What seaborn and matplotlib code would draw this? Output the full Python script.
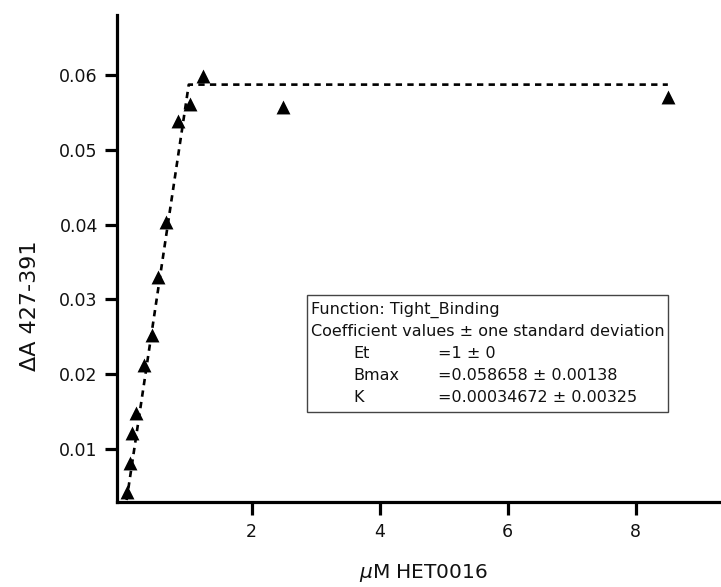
import matplotlib
matplotlib.use("Agg")
import matplotlib.pyplot as plt
from matplotlib.patches import Rectangle
import seaborn as sns

# ---- data ----
conc = [0.05, 0.11, 0.14, 0.20, 0.32, 0.44, 0.545, 0.66, 0.85, 1.045, 1.25, 2.49, 8.51]
dA = [0.0043, 0.0081, 0.0122, 0.0148, 0.0212, 0.0252, 0.0330, 0.0403, 0.0538, 0.0561, 0.0598, 0.0557, 0.0571]
fit_conc = [0.05, 1.02, 8.5]
fit_dA = [0.0032, 0.0587, 0.0587]
x_ticks = [2, 4, 6, 8]
y_ticks = [0.01, 0.02, 0.03, 0.04, 0.05, 0.06]
fit_title = "Function: Tight_Binding"
coef_header = "Coefficient values \u00b1 one standard deviation"
coef_names = ["Et", "Bmax", "K"]
coef_values = ["=1 \u00b1 0", "=0.058658 \u00b1 0.00138", "=0.00034672 \u00b1 0.00325"]

sns.set_theme(style="ticks")
plt.rcParams["font.family"] = ["DejaVu Sans"]
plt.rcParams["mathtext.fontset"] = "dejavusans"

W, H = 721, 587
fig = plt.figure(figsize=(W / 100, H / 100), dpi=100)
fig.patch.set_facecolor("white")


def fx(px):
    return px / W


def fy(py):
    return 1 - py / H


L, B, T = 116.7, 501.7, 15.0
ax = fig.add_axes([fx(L), fy(B), 1 - fx(L), fy(T) - fy(B)])
ax.set_facecolor("white")

sns.lineplot(x=fit_conc, y=fit_dA, ax=ax, color="black", linewidth=1.9,
             sort=False, estimator=None, zorder=2)
ax.lines[0].set_linestyle((0, (2.4, 2.0)))

sns.scatterplot(x=conc, y=dA, ax=ax, marker="^", s=100, color="black",
                linewidth=0, zorder=3)

ax.set_xlim(-0.105, 9.33)
ax.set_ylim(0.00298, 0.068)
ax.set_xticks(x_ticks)
ax.set_xticklabels([str(t) for t in x_ticks])
ax.set_yticks(y_ticks)
ax.set_yticklabels([f"{t:.2f}" for t in y_ticks])

for s in ["top", "right"]:
    ax.spines[s].set_visible(False)
for s in ["left", "bottom"]:
    ax.spines[s].set_linewidth(2.3)
    ax.spines[s].set_color("black")

ax.tick_params(axis="both", direction="out", length=9, width=2.3,
               color="black", labelcolor="#111111", labelsize=12.5,
               bottom=True, left=True)
ax.tick_params(axis="x", pad=6.5)
ax.tick_params(axis="y", pad=4.6)

ax.set_xlabel(r"$\mu$M HET0016", fontsize=14.5, color="#111111", va="baseline")
ax.xaxis.set_label_coords((423 - L) / (W - L), (B - 578) / (B - T))
ax.set_ylabel("\u0394A 427-391", fontsize=16, color="#111111", va="baseline")
ax.yaxis.set_label_coords((35.6 - L) / (W - L), (B - 305.6) / (B - T))

fs = 11.5
fig.text(fx(311), fy(310), fit_title, fontsize=fs, va="center", ha="left", color="#111111")
hdr = fig.text(fx(311), fy(332), coef_header, fontsize=fs, va="center", ha="left", color="#111111")
for i, (n, v) in enumerate(zip(coef_names, coef_values)):
    yy = 354 + 22 * i
    fig.text(fx(353), fy(yy), n, fontsize=fs, va="center", ha="left", color="#111111")
    fig.text(fx(438), fy(yy), v, fontsize=fs, va="center", ha="left", color="#111111")

fig.canvas.draw()
ext = hdr.get_window_extent()
right_px = ext.x1 + 3
rect = Rectangle((fx(307), fy(412)), fx(right_px) - fx(307), fy(295) - fy(412),
                 transform=fig.transFigure, fill=False, edgecolor="#444444",
                 linewidth=1.0, zorder=5)
fig.add_artist(rect)

fig.savefig("out.png", dpi=100, facecolor="white")
